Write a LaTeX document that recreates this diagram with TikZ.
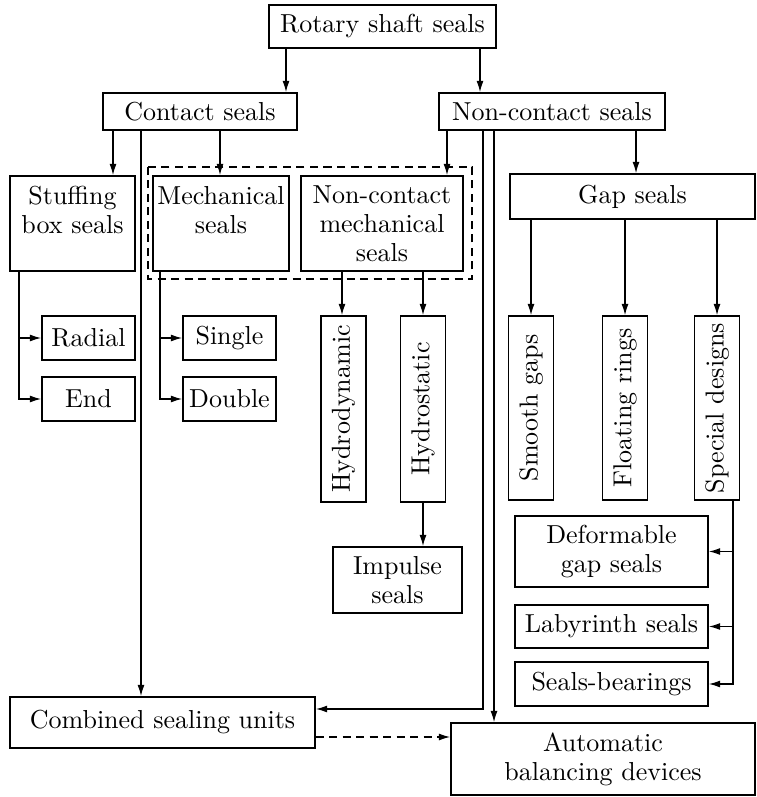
\documentclass[tikz,border=0pt]{standalone}
\usepackage{graphicx}
\usetikzlibrary{arrows.meta}

\begin{document}
\begin{tikzpicture}[x=0.4pt,y=-0.4pt,line width=0.55pt,
		font=\fontsize{10.4}{11.6}\selectfont,
		arr/.style={-{Latex[length=4.6pt,width=2.8pt]}},
		dash line/.style={dash pattern=on 3.2pt off 2.2pt},
		plain box/.style 2 args={draw,align=center,inner sep=1pt,
			minimum width=#1*0.4pt,minimum height=#2*0.4pt},
		top box/.style={draw,inner xsep=1pt,inner ysep=4pt},
		side box/.style={draw,inner sep=0pt,minimum width=45*0.4pt,minimum height=186*0.4pt}]
		
		\useasboundingbox (0,0) rectangle (756,797);
		
		% top levels
		\node[plain box={227}{43}] (rotary) at (382.5,26.5) {Rotary shaft seals};
		\node[plain box={194}{37}] (contact) at (200,111.5) {Contact seals};
		\node[plain box={226}{37}] (noncontact) at (552,111.5) {Non-contact seals};
		
		% contact seals branch
		\node[top box] (stuffing) at (72.5,223.5) {\parbox[c][30pt][t]{48pt}{\centering Stuffing\\box seals}};
		\node[top box] (mech) at (221,223.5) {\parbox[c][30pt][t]{52.4pt}{\centering Mechanical\\seals}};
		\node[top box] (ncmech) at (382,223.5) {\parbox[c][30pt][t]{62.8pt}{\centering Non-contact\\mechanical\\seals}};
		\draw[dash line] (148,167) rectangle (472,279);
		
		\node[plain box={93}{44}] (radial) at (88.5,338) {Radial};
		\node[plain box={93}{44}] (endseal) at (88.5,399) {End};
		\node[plain box={93}{44}] (single) at (229.5,338) {Single};
		\node[plain box={93}{44}] (double) at (229.5,399) {Double};
		\node[side box] (hydrodyn) at (343.5,409) {\rotatebox{90}{Hydrodynamic}};
		\node[side box] (hydrostat) at (423,409) {\rotatebox{90}{Hydrostatic}};
		\node[plain box={129}{66}] (impulse) at (397.5,580) {Impulse\\seals};
		
		% non-contact seals branch
		\node[plain box={245}{45}] (gap) at (632.5,196.5) {Gap seals};
		\node[side box,minimum height=184*0.4pt] (smooth) at (531,408) {\rotatebox{90}{Smooth gaps}};
		\node[side box,minimum height=184*0.4pt] (floating) at (625,408) {\rotatebox{90}{Floating rings}};
		\node[side box,minimum height=184*0.4pt] (special) at (717,408) {\rotatebox{90}{Special designs}};
		\node[plain box={193}{71}] (deform) at (611.5,551.5) {Deformable\\gap seals};
		\node[plain box={193}{43}] (laby) at (611.5,626.5) {Labyrinth seals};
		\node[plain box={193}{44}] (bearings) at (611.5,684) {Seals-bearings};
		
		% bottom
		\node[plain box={305}{51}] (combined) at (162.5,722.5) {Combined sealing units};
		\node[plain box={304}{72}] (balancing) at (603,759) {Automatic\\balancing devices};
		
		\draw[arr] (rotary.south -| 286,0) -- (contact.north -| 286,0);
		\draw[arr] (rotary.south -| 480,0) -- (noncontact.north -| 480,0);
		\draw[arr] (contact.south -| 113,0) -- (stuffing.north -| 113,0);
		\draw[arr] (contact.south -| 220,0) -- (mech.north -| 220,0);
		\draw[arr] (contact.south -| 141,0) -- (combined.north -| 141,0);
		\draw[arr] (noncontact.south -| 447,0) -- (ncmech.north -| 447,0);
		\draw[arr] (noncontact.south -| 636,0) -- (gap.north -| 636,0);
		\draw[arr] (noncontact.south -| 483,0) |- (combined.east |- 0,709);
		\draw[arr] (noncontact.south -| 494,0) -- (balancing.north -| 494,0);
		
		\draw[arr] (stuffing.south -| 19,0) |- (radial.west);
		\draw[arr] (stuffing.south -| 19,0) |- (endseal.west);
		\draw[arr] (mech.south -| 160,0) |- (single.west);
		\draw[arr] (mech.south -| 160,0) |- (double.west);
		\draw[arr] (ncmech.south -| 342,0) -- (hydrodyn.north -| 342,0);
		\draw[arr] (ncmech.south -| hydrostat.north) -- (hydrostat.north);
		\draw[arr] (hydrostat.south) -- (impulse.north -| hydrostat.south);
		
		\foreach \n in {smooth,floating,special}
		\draw[arr] (gap.south -| \n.north) -- (\n.north);
		\foreach \n in {deform,laby,bearings}
		\draw[arr] (special.south -| 733,0) |- (\n.east);
		
		\draw[arr,dash line] (combined.east |- 0,737) -- (balancing.west |- 0,737);
	\end{tikzpicture}
\end{document}
